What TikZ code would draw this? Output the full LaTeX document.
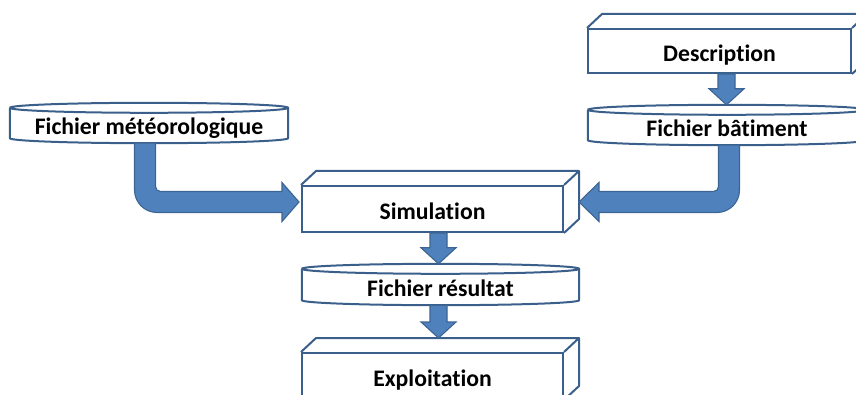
\documentclass[tikz,border=0pt]{standalone}
\usepackage{fontspec}
\setmainfont{Carlito}[Ligatures={NoCommon}]
\usetikzlibrary{calc}
\definecolor{edge}{HTML}{3A5F8B}
\definecolor{afill}{HTML}{4F81BD}
\definecolor{aedge}{HTML}{3C6594}
\tikzset{
 lbl/.style={font=\fontsize{23.7}{28}\selectfont\bfseries, inner sep=0pt, align=center},
 frontbox/.style={lbl, draw=edge, line width=2pt, text height=26pt, text depth=5pt},
 cannode/.style={lbl, text height=29pt, text depth=5pt},
 edgeline/.style={draw=edge, line width=2pt, line join=round},
 fatarrow/.style={fill=afill, draw=aedge, line width=1.1pt, line join=miter},
}
\newcommand\cubetop[1]{\draw[edgeline] (#1.north west) -- ++(15,-14) -- ($(#1.north east)+(15,-14)$) -- (#1.north east) ($(#1.north east)+(15,-14)$) -- ($(#1.south east)+(15,-14)$) -- (#1.south east);}
\newcommand\candraw[1]{\draw[edgeline] let \p1=(#1.north west), \p2=(#1.south east), \n1={(\x2-\x1)/2} in (\x1,\y1-5pt) -- (\x1,\y2+5pt) arc[start angle=180,end angle=360,x radius=\n1,y radius=5pt] -- (\x2,\y1-5pt) (\x1,\y1-5pt) arc[start angle=180,end angle=-180,x radius=\n1,y radius=5pt];}
\newcommand\fatdown[2]{\filldraw[fatarrow] let \p1=#1, \p2=#2 in (\x1-8.5pt,\y1) -- (\x1-8.5pt,\y2+16pt) -- (\x1-17.5pt,\y2+16pt) -- (\x1,\y2) -- (\x1+17.5pt,\y2+16pt) -- (\x1+8.5pt,\y2+16pt) -- (\x1+8.5pt,\y1) -- cycle;}
\newcommand\bentright[2]{\filldraw[fatarrow] let \p1=#1, \p2=#2 in (\x1-10.5pt,\y1) -- (\x1-10.5pt,\y2+12pt) arc[start angle=180,end angle=270,radius=22.5pt] -- (\x2-17pt,\y2-10.5pt) -- (\x2-17pt,\y2-19.5pt) -- (\x2,\y2) -- (\x2-17pt,\y2+19.5pt) -- (\x2-17pt,\y2+10.5pt) -- (\x1+15.5pt,\y2+10.5pt) arc[start angle=270,end angle=180,radius=5pt] -- (\x1+10.5pt,\y1) -- cycle;}
\newcommand\bentleft[2]{\filldraw[fatarrow] let \p1=#1, \p2=#2 in (\x1+10.5pt,\y1) -- (\x1+10.5pt,\y2+12pt) arc[start angle=0,end angle=-90,radius=22.5pt] -- (\x2+20pt,\y2-10.5pt) -- (\x2+20pt,\y2-19.5pt) -- (\x2,\y2) -- (\x2+20pt,\y2+19.5pt) -- (\x2+20pt,\y2+10.5pt) -- (\x1-15.5pt,\y2+10.5pt) arc[start angle=-90,end angle=0,radius=5pt] -- (\x1-10.5pt,\y1) -- cycle;}
\begin{document}
\begin{tikzpicture}[x=1pt,y=-1pt]
\useasboundingbox (0,0) rectangle (856,395);
\clip (0,0) rectangle (856,395);
% nodes
\node[frontbox, minimum width=263pt, minimum height=44pt] (desc) at (719.5,51) {Description};
\node[cannode, minimum width=278pt, minimum height=40pt] (bat) at (727,125) {Fichier bâtiment};
\node[cannode, minimum width=278pt, minimum height=40pt] (meteo) at (149,123) {Fichier météorologique};
\node[frontbox, minimum width=261pt, minimum height=46pt] (sim) at (432.5,209) {Simulation};
\node[cannode, minimum width=277pt, minimum height=41pt] (res) at (440.5,284.5) {Fichier résultat};
\node[frontbox, minimum width=261pt, minimum height=46pt] (exp) at (432.5,376) {Exploitation};
% 3D box tops and sides
\cubetop{desc}
\cubetop{sim}
\cubetop{exp}
% cans
\candraw{bat}
\candraw{meteo}
\candraw{res}
% arrows
\fatdown{($(desc.south)+(7,0)$)}{(bat.north)}
\fatdown{($(sim.south)+(6,0)$)}{(res.north)}
\fatdown{($(res.south)+(-2,0)$)}{($(exp.north)+(0,-14)$)}
\bentright{($(meteo.south)+(-4,0)$)}{($(sim.west)+(-2,-7)$)}
\bentleft{($(bat.south)+(2,0)$)}{($(sim.east)+(15,-7)$)}
\end{tikzpicture}
\end{document}
